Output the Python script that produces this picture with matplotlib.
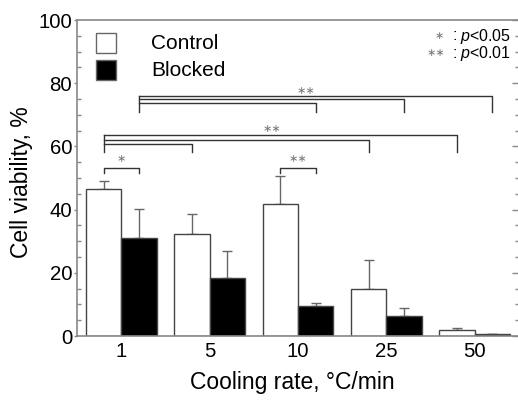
import matplotlib
matplotlib.use("Agg")
import matplotlib.pyplot as plt
from matplotlib.patches import Rectangle
import numpy as np

plt.rcParams['font.family'] = ['Liberation Sans', 'DejaVu Sans']
plt.rcParams['mathtext.fontset'] = 'custom'
plt.rcParams['mathtext.it'] = 'Liberation Sans:italic'
plt.rcParams['mathtext.rm'] = 'Liberation Sans'

# ---- data ----
categories = ['1', '5', '10', '25', '50']
control = [46.5, 32.2, 41.7, 15.0, 1.8]
control_err = [2.7, 6.3, 9.0, 9.0, 0.8]
blocked = [31.1, 18.5, 9.5, 6.3, 0.5]
blocked_err = [9.2, 8.4, 0.8, 2.6, 0.2]
series_labels = ['Control', 'Blocked']

# significance brackets: (start category idx, start series, [(end idx, end series, level)], bottom, label, label_x, label_y)
pair_brackets = [(0, 53.3, 51.6, '∗'), (2, 53.3, 51.6, '∗∗')]
group_brackets = [
    (0, 'c', [(1, 'c', 60.9), (3, 'c', 62.1), (4, 'c', 63.6)], 58.1, '∗∗', 1.70, 66.0),
    (0, 'b', [(2, 'b', 73.6), (3, 'b', 74.9), (4, 'b', 76.0)], 71.0, '∗∗', 2.09, 78.0),
]

W, H = 518, 408
fig = plt.figure(figsize=(W / 100, H / 100), dpi=100)
ax = fig.add_axes([77 / W, (H - 336) / H, 442 / W, 316 / H])

x = np.arange(len(categories))
bw = 0.4
off = {'c': -bw / 2, 'b': bw / 2}
edge = '#444444'
errc = '#666666'
ax.bar(x - bw / 2, control, bw, color='white', edgecolor=edge, linewidth=1.0, zorder=2)
ax.bar(x + bw / 2, blocked, bw, color='black', edgecolor=edge, linewidth=1.0, zorder=2)
ax.errorbar(x - bw / 2, control, yerr=[np.zeros(len(x)), control_err], fmt='none',
            ecolor=errc, elinewidth=1.0, capsize=3.5, capthick=1.0, zorder=1)
ax.errorbar(x + bw / 2, blocked, yerr=[np.zeros(len(x)), blocked_err], fmt='none',
            ecolor=errc, elinewidth=1.0, capsize=3.5, capthick=1.0, zorder=1)

ax.set_xlim(-0.5, 4.5)
ax.set_ylim(0, 100)
ax.set_xticks(x)
ax.set_xticklabels(categories)
ax.set_yticks([0, 20, 40, 60, 80, 100])
ax.set_yticks(np.arange(0, 101, 5), minor=True)

spc = '#888888'
for s in ax.spines.values():
    s.set_color(spc)
    s.set_linewidth(1.2)
ax.tick_params(axis='x', length=0, pad=4, labelsize=14.7)
ax.tick_params(axis='y', which='major', direction='out', length=2.5, width=1.0,
               color=spc, pad=1, labelsize=14.7, right=False)
ax.tick_params(axis='y', which='minor', direction='in', length=3, width=1.0,
               color=spc, left=True, right=True)
sec = ax.secondary_yaxis('right')
sec.set_yticks([0, 20, 40, 60, 80, 100])
sec.tick_params(direction='in', length=5, width=1.0, color=spc, labelright=False)
sec.spines['right'].set_color(spc)

ax.set_xlabel('Cooling rate, °C/min', fontsize=16.5)
ax.xaxis.set_label_coords(0.4876, -0.112)
ax.set_ylabel('Cell viability, %', fontsize=16.5)
ax.yaxis.set_label_coords(-0.099, 0.487)

# brackets
bc = '#333333'
blw = 1.0
stc = '#777777'
for idx, top, bottom, lab in pair_brackets:
    x0, x1 = idx + off['c'], idx + off['b']
    ax.plot([x0, x0, x1, x1], [bottom, top, top, bottom], color=bc, lw=blw, zorder=3)
    ax.text(idx, top + 1.0, lab, ha='center', va='bottom', fontsize=8, color=stc,
            family=['DejaVu Sans'])
for sidx, sser, ends, bottom, lab, lx, ly in group_brackets:
    xs = sidx + off[sser]
    levels = [e[2] for e in ends]
    ax.plot([xs, xs], [bottom, max(levels)], color=bc, lw=blw, zorder=3)
    for eidx, eser, lev in ends:
        xe = eidx + off[eser]
        ax.plot([xs, xe, xe], [lev, lev, bottom], color=bc, lw=blw, zorder=3)
    ax.text(lx, ly - 0.5, lab, ha='center', va='center', fontsize=8, color=stc,
            family=['DejaVu Sans'])

# legend (manual, figure pixel coordinates)
leg_colors = ['white', 'black']
leg_y = [43.3, 70.0]
for lab, fc, yc in zip(series_labels, leg_colors, leg_y):
    fig.add_artist(Rectangle((96 / W, (H - yc - 10) / H), 20 / W, 20 / H,
                             transform=fig.transFigure, facecolor=fc,
                             edgecolor='#666666', linewidth=1.0))
    fig.text(151.5 / W, (H - yc) / H, lab, ha='left', va='center', fontsize=15)

# p-value key
key_rows = [('∗', 36.0, 439), ('∗∗', 53.3, 436)]
key_labels = [r'$p$<0.05', r'$p$<0.01']
for (st, yc, sx), kl in zip(key_rows, key_labels):
    fig.text(sx / W, (H - yc) / H, st, ha='center', va='center', fontsize=8,
             color=stc, family=['DejaVu Sans'])
    fig.text(455 / W, (H - yc) / H, ':', ha='center', va='center', fontsize=11.5)
    fig.text(460 / W, (H - yc) / H, kl, ha='left', va='center', fontsize=11.5)

fig.savefig('out.png', dpi=100)
